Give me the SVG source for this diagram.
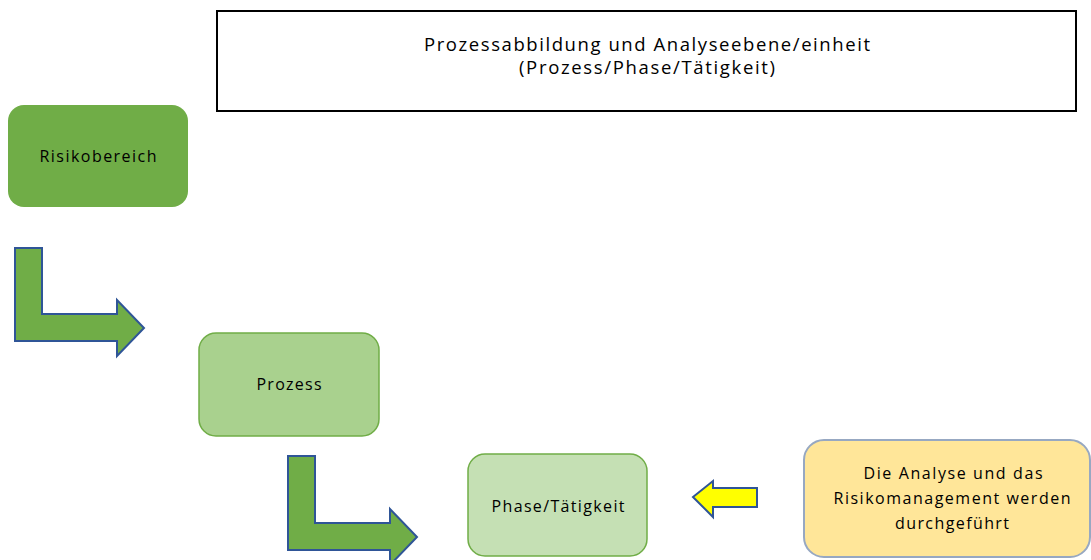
<svg xmlns="http://www.w3.org/2000/svg" width="1091" height="560" viewBox="0 0 1091 560">
<style>
text{font-family:"Open Sans","Liberation Sans",Arial,sans-serif;font-size:16px;fill:#000;text-anchor:middle}
.t{font-size:18.5px}
.arr{fill:#70AD47;stroke:#2F5597;stroke-width:2;stroke-linejoin:miter}
.yarr{fill:#FFFF00;stroke:#2F5597;stroke-width:2}
</style>
<rect width="1091" height="560" fill="#fff"/>
<g id="title">
<rect x="217" y="11" width="859" height="100" fill="#fff" stroke="#000" stroke-width="2"/>
<text class="t" x="647" y="51" textLength="446">Prozessabbildung und Analyseebene/einheit</text>
<text class="t" x="647" y="74" textLength="256">(Prozess/Phase/Tätigkeit)</text>
</g>
<g id="risikobereich">
<rect x="8" y="105" width="180" height="102" rx="16" fill="#70AD47"/>
<text x="98" y="162" textLength="117">Risikobereich</text>
</g>
<g id="prozess">
<rect x="199" y="333" width="180" height="103" rx="17" fill="#A9D18E" stroke="#70AD47" stroke-width="1.5"/>
<text x="289" y="390" textLength="65">Prozess</text>
</g>
<g id="phase">
<rect x="468" y="454" width="179" height="102" rx="17" fill="#C5E0B4" stroke="#70AD47" stroke-width="1.5"/>
<text x="558" y="512" textLength="133">Phase/Tätigkeit</text>
</g>
<g id="analyse">
<rect x="804" y="440" width="286" height="117" rx="20" fill="#FFE699" stroke="#97A8C2" stroke-width="2"/>
<text x="953" y="479" textLength="179">Die Analyse und das</text>
<text x="952" y="504" textLength="237">Risikomanagement werden</text>
<text x="952" y="529" textLength="114">durchgeführt</text>
</g>
<g id="connectors">
<polygon class="arr" points="15,248 42,248 42,314 117,314 117,300 144,328 117,356 117,341 15,341"/>
<polygon class="arr" points="288,456 315,456 315,523 390,523 390,509 417,537 390,565 390,550 288,550"/>
<polygon class="yarr" points="693,497 713,481 713,488 757,488 757,507 713,507 713,517"/>
</g>
</svg>
